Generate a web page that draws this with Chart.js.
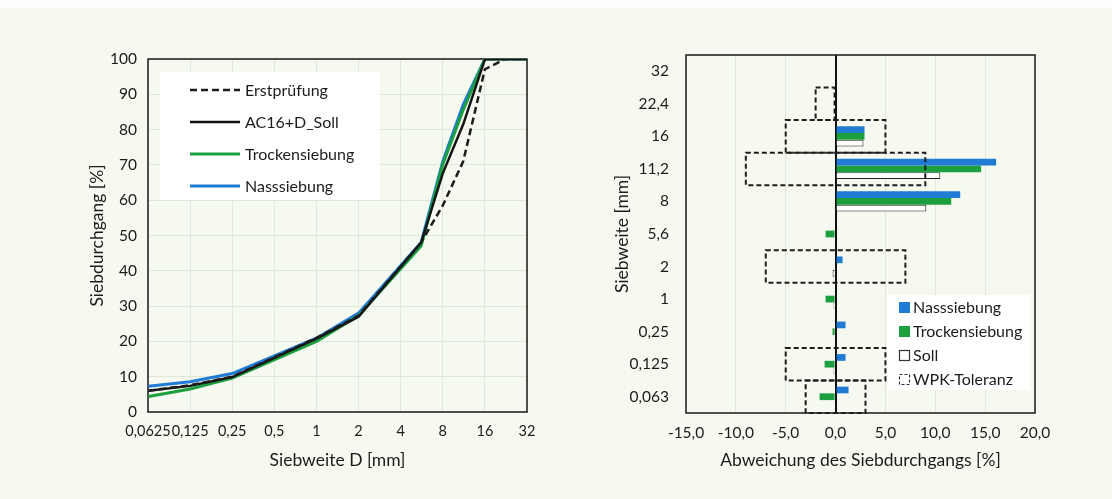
<!DOCTYPE html>
<html>
<head>
<meta charset="utf-8">
<script src="https://cdn.jsdelivr.net/npm/chart.js@4.4.1/dist/chart.umd.min.js"></script>
<style>
  html, body { margin: 0; padding: 0; }
  body { width: 1112px; height: 499px; background: #f5f9ef; position: relative; overflow: hidden; }
  #topStrip { position: absolute; left: 0; top: 0; width: 1112px; height: 8px; background: #fdfefb; }
  canvas { position: absolute; top: 0; }
  #sieve { left: 0; }
  #dev { left: 560px; }
</style>
</head>
<body>
<div id="topStrip"></div>
<canvas id="sieve" width="560" height="499"></canvas>
<canvas id="dev" width="552" height="499"></canvas>
<script>
// Sieblinie (left chart)
const sieveSizes = [0.063, 0.125, 0.25, 1, 2, 5.6, 8, 11.2, 16, 22.4, 32];
const erstpruefung = [6.0, 7.6, 10.0, 21.0, 27.3, 48.0, 58.5, 71.0, 97.1, 100, 100];
const sollCurve = [6.0, 7.4, 9.9, 20.8, 27.0, 48.0, 67.6, 81.5, 99.9, 100, 100];
const trockenCurve = [4.4, 6.5, 9.6, 20.0, 27.3, 47.0, 70.1, 85.6, 100, 100, 100];
const nassCurve = [7.3, 8.6, 10.9, 20.9, 28.0, 48.0, 71.0, 87.1, 100, 100, 100];
const sieveTicks = [0.0625, 0.125, 0.25, 0.5, 1, 2, 4, 8, 16, 32];

// Abweichungen (right chart)
const devLabels = ["32", "22,4", "16", "11,2", "8", "5,6", "2", "1", "0,25", "0,125", "0,063"];
const devNass = [0, 0, 2.9, 16.1, 12.5, 0, 0.7, -0.1, 1.0, 1.0, 1.3];
const devTrocken = [0, 0, 2.9, 14.6, 11.6, -1.0, 0, -1.0, -0.3, -1.1, -1.6];
const devSoll = [0, 0, 2.8, 10.5, 9.1, 0, -0.3, -0.2, -0.1, -0.2, 0];
const tolMin = [null, -2, -5, -9, null, null, -7, null, null, -5, -3];
const tolMax = [null, 0, 5, 9, null, null, 7, null, null, 5, 3];

const BLUE = "#1f7bd4";
const GREEN = "#1c9f3e";
const TEXT = "#1c1c1c";
const GRID = "#e1e7d8";
const FONT = "Lato";

Chart.defaults.font.family = FONT;
Chart.defaults.font.size = 15.5;
Chart.defaults.color = TEXT;

const points = values => sieveSizes.map((d, i) => ({x: d, y: values[i]}));

// black box round the plot area, like the Excel frame
const framePlugin = {
  id: "frame",
  beforeDatasetsDraw(chart) {
    const {ctx, chartArea: a} = chart;
    ctx.save();
    ctx.strokeStyle = "#1a1a1a";
    ctx.lineWidth = 1.5;
    ctx.strokeRect(a.left, a.top, a.right - a.left, a.bottom - a.top);
    ctx.restore();
  }
};

const lineLegend = {
  id: "lineLegend",
  afterDatasetsDraw(chart) {
    const {ctx, chartArea} = chart;
    const x0 = chartArea.left + 12;
    const y0 = chartArea.top + 13;
    ctx.save();
    ctx.fillStyle = "#ffffff";
    ctx.fillRect(x0, y0, 220, 128);
    ctx.font = "16px " + FONT;
    ctx.textBaseline = "middle";
    chart.data.datasets.forEach((ds, i) => {
      const y = y0 + 18 + i * 32;
      ctx.strokeStyle = ds.borderColor;
      ctx.lineWidth = ds.borderWidth;
      ctx.setLineDash(ds.borderDash || []);
      ctx.beginPath();
      ctx.moveTo(x0 + 30, y);
      ctx.lineTo(x0 + 80, y);
      ctx.stroke();
      ctx.setLineDash([]);
      ctx.fillStyle = TEXT;
      ctx.fillText(ds.label, x0 + 85, y + 1);
    });
    ctx.restore();
  }
};

new Chart(document.getElementById("sieve"), {
  type: "line",
  data: {
    datasets: [
      {label: "Erstprüfung", data: points(erstpruefung), borderColor: "#1c1c1c", borderWidth: 2.5, borderDash: [7, 4]},
      {label: "AC16+D_Soll", data: points(sollCurve), borderColor: "#141414", borderWidth: 2.5},
      {label: "Trockensiebung", data: points(trockenCurve), borderColor: GREEN, borderWidth: 3},
      {label: "Nasssiebung", data: points(nassCurve), borderColor: BLUE, borderWidth: 3}
    ]
  },
  options: {
    responsive: false,
    animation: false,
    layout: {padding: {left: 83, top: 59, right: 33, bottom: 24}},
    elements: {point: {radius: 0}, line: {tension: 0}},
    plugins: {legend: {display: false}, tooltip: {enabled: false}},
    scales: {
      x: {
        type: "logarithmic",
        min: 0.0625,
        max: 32,
        afterBuildTicks: axis => {
          axis.ticks = sieveTicks.map(v => ({value: v}));
        },
        afterFit: axis => { axis.height = 63; },
        ticks: {
          autoSkip: false,
          maxRotation: 0,
          padding: 11,
          font: {size: 14.5},
          callback: v => String(v).replace(".", ",")
        },
        grid: {color: GRID, drawTicks: false},
        border: {display: false},
        title: {display: true, text: "Siebweite D [mm]", font: {size: 17.5}}
      },
      y: {
        min: 0,
        max: 100,
        afterFit: axis => { axis.width = 65; },
        ticks: {stepSize: 10, padding: 11},
        grid: {color: GRID, drawTicks: false},
        border: {display: false},
        title: {display: true, text: "Siebdurchgang [%]", font: {size: 17.5}}
      }
    }
  },
  plugins: [framePlugin, lineLegend]
});

// dashed boxes for the tolerance floating bars
const tolerancePlugin = {
  id: "tolerance",
  afterDatasetsDraw(chart) {
    const {ctx} = chart;
    const meta = chart.getDatasetMeta(3);
    ctx.save();
    ctx.strokeStyle = "#1e1e1e";
    ctx.lineWidth = 2;
    ctx.setLineDash([5, 3]);
    meta.data.forEach((el, i) => {
      if (chart.data.datasets[3].data[i] === null) return;
      const {x, y, base, height} = el.getProps(["x", "y", "base", "height"], true);
      ctx.strokeRect(Math.min(x, base), y - height / 2, Math.abs(x - base), height);
    });
    ctx.restore();
  }
};

const barLegend = {
  id: "barLegend",
  afterDatasetsDraw(chart) {
    const {ctx, chartArea} = chart;
    const x0 = chartArea.right - 148;
    const y0 = chartArea.bottom - 118;
    ctx.save();
    ctx.fillStyle = "#ffffff";
    ctx.fillRect(x0, y0, 143, 95);
    ctx.font = "16px " + FONT;
    ctx.textBaseline = "middle";
    chart.data.datasets.forEach((ds, i) => {
      const y = y0 + 12 + i * 24;
      const bx = x0 + 12;
      const by = y - 5;
      if (i < 2) {
        ctx.fillStyle = ds.backgroundColor;
        ctx.fillRect(bx, by, 11, 11);
      } else {
        ctx.fillStyle = "#ffffff";
        ctx.fillRect(bx, by, 11, 11);
        ctx.strokeStyle = "#333";
        ctx.lineWidth = 1.2;
        ctx.setLineDash(i === 3 ? [3, 2] : []);
        ctx.strokeRect(bx + 0.5, by + 0.5, 10, 10);
        ctx.setLineDash([]);
      }
      ctx.fillStyle = TEXT;
      ctx.fillText(ds.label, x0 + 26, y + 1);
    });
    ctx.restore();
  }
};

new Chart(document.getElementById("dev"), {
  type: "bar",
  data: {
    labels: devLabels,
    datasets: [
      {label: "Nasssiebung", data: devNass, backgroundColor: BLUE},
      {label: "Trockensiebung", data: devTrocken, backgroundColor: GREEN},
      {label: "Soll", data: devSoll, backgroundColor: "#ffffff", borderColor: "#222", borderWidth: 1},
      {
        label: "WPK-Toleranz",
        data: devLabels.map((_, i) => (tolMin[i] === null ? null : [tolMin[i], tolMax[i]])),
        grouped: false,
        barPercentage: 1,
        categoryPercentage: 1,
        backgroundColor: "rgba(0,0,0,0)"
      }
    ]
  },
  options: {
    indexAxis: "y",
    responsive: false,
    animation: false,
    datasets: {bar: {categoryPercentage: 0.62, barPercentage: 1}},
    layout: {padding: {left: 48, top: 55, right: 77, bottom: 24}},
    plugins: {legend: {display: false}, tooltip: {enabled: false}},
    scales: {
      x: {
        min: -15,
        max: 20,
        afterFit: axis => { axis.height = 62; },
        ticks: {stepSize: 5, padding: 11, callback: v => v.toFixed(1).replace(".", ",")},
        grid: {
          drawTicks: false,
          color: c => (c.tick.value === 0 ? "#111" : GRID),
          lineWidth: c => (c.tick.value === 0 ? 2 : 1)
        },
        border: {display: false},
        title: {display: true, text: "Abweichung des Siebdurchgangs [%]", font: {size: 17.5}}
      },
      y: {
        afterFit: axis => { axis.width = 78; },
        ticks: {padding: 17},
        grid: {display: false, drawTicks: false},
        border: {display: false},
        title: {display: true, text: "Siebweite [mm]", font: {size: 17.5}}
      }
    }
  },
  plugins: [framePlugin, tolerancePlugin, barLegend]
});
</script>
</body>
</html>
